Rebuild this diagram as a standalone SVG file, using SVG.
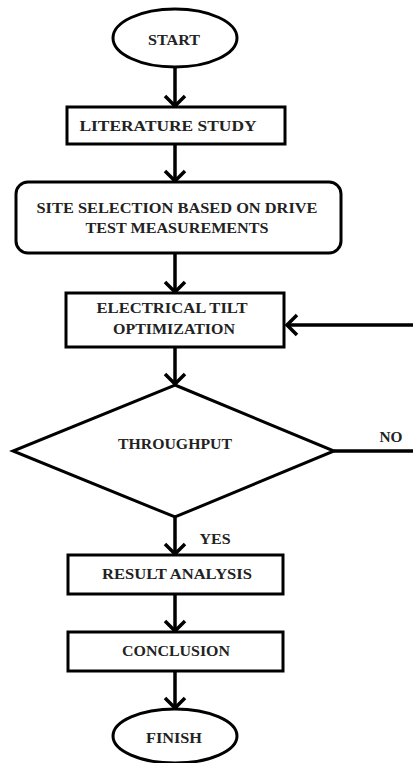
<svg xmlns="http://www.w3.org/2000/svg" width="413" height="763" viewBox="0 0 413 763">
<defs>
<style>
.shape{fill:#fff;stroke:#000;stroke-width:3}
.lbl{font-family:"Liberation Serif","Times New Roman",serif;font-weight:bold;font-size:14px;fill:#222;text-anchor:middle}
.conn{fill:none;stroke:#000;stroke-width:3.5}
</style>
<marker id="arr" markerUnits="userSpaceOnUse" viewBox="-14 -14 16 28" refX="0" refY="0" markerWidth="16" markerHeight="28" orient="auto">
<path d="M-10,-10 L0,0 L-10,10" fill="none" stroke="#000" stroke-width="3.5"/>
</marker>
</defs>
<rect width="413" height="763" fill="#fff"/>
<g id="connectors">
<path class="conn" d="M175,67 V106" marker-end="url(#arr)"/>
<path class="conn" d="M175,144 V181" marker-end="url(#arr)"/>
<path class="conn" d="M175,253 V292" marker-end="url(#arr)"/>
<path class="conn" d="M175,347 V384" marker-end="url(#arr)"/>
<path class="conn" d="M175,517 V554" marker-end="url(#arr)"/>
<path class="conn" d="M175,594 V631" marker-end="url(#arr)"/>
<path class="conn" d="M175,671 V708" marker-end="url(#arr)"/>
<path class="conn" d="M334,451 H418 V325 H287" marker-end="url(#arr)"/>
<text class="lbl" x="391" y="442" textLength="23" lengthAdjust="spacingAndGlyphs">NO</text>
<text class="lbl" x="215" y="544" textLength="31" lengthAdjust="spacingAndGlyphs">YES</text>
</g>
<g id="start">
<ellipse class="shape" cx="175" cy="38" rx="62" ry="29"/>
<text class="lbl" x="174" y="45" textLength="52" lengthAdjust="spacingAndGlyphs">START</text>
</g>
<g id="literature">
<rect class="shape" x="67" y="107" width="218" height="37"/>
<text class="lbl" x="168" y="131" textLength="177" lengthAdjust="spacingAndGlyphs">LITERATURE STUDY</text>
</g>
<g id="site">
<rect class="shape" x="16" y="182" width="325" height="71" rx="12"/>
<text class="lbl" x="177" y="213" textLength="281" lengthAdjust="spacingAndGlyphs">SITE SELECTION BASED ON DRIVE</text>
<text class="lbl" x="177" y="233" textLength="183" lengthAdjust="spacingAndGlyphs">TEST MEASUREMENTS</text>
</g>
<g id="tilt">
<rect class="shape" x="66" y="293" width="218" height="54"/>
<text class="lbl" x="172" y="313" textLength="151" lengthAdjust="spacingAndGlyphs">ELECTRICAL TILT</text>
<text class="lbl" x="174" y="334" textLength="122" lengthAdjust="spacingAndGlyphs">OPTIMIZATION</text>
</g>
<g id="throughput">
<polygon class="shape" points="175,385 334,451 175,517 13,451"/>
<text class="lbl" x="175" y="449" textLength="114" lengthAdjust="spacingAndGlyphs">THROUGHPUT</text>
</g>
<g id="result">
<rect class="shape" x="68" y="555" width="215" height="39"/>
<text class="lbl" x="177" y="579" textLength="150" lengthAdjust="spacingAndGlyphs">RESULT ANALYSIS</text>
</g>
<g id="conclusion">
<rect class="shape" x="68" y="632" width="215" height="39"/>
<text class="lbl" x="176" y="656" textLength="108" lengthAdjust="spacingAndGlyphs">CONCLUSION</text>
</g>
<g id="finish">
<ellipse class="shape" cx="175" cy="736" rx="62" ry="27"/>
<text class="lbl" x="174" y="743" textLength="56" lengthAdjust="spacingAndGlyphs">FINISH</text>
</g>
</svg>
